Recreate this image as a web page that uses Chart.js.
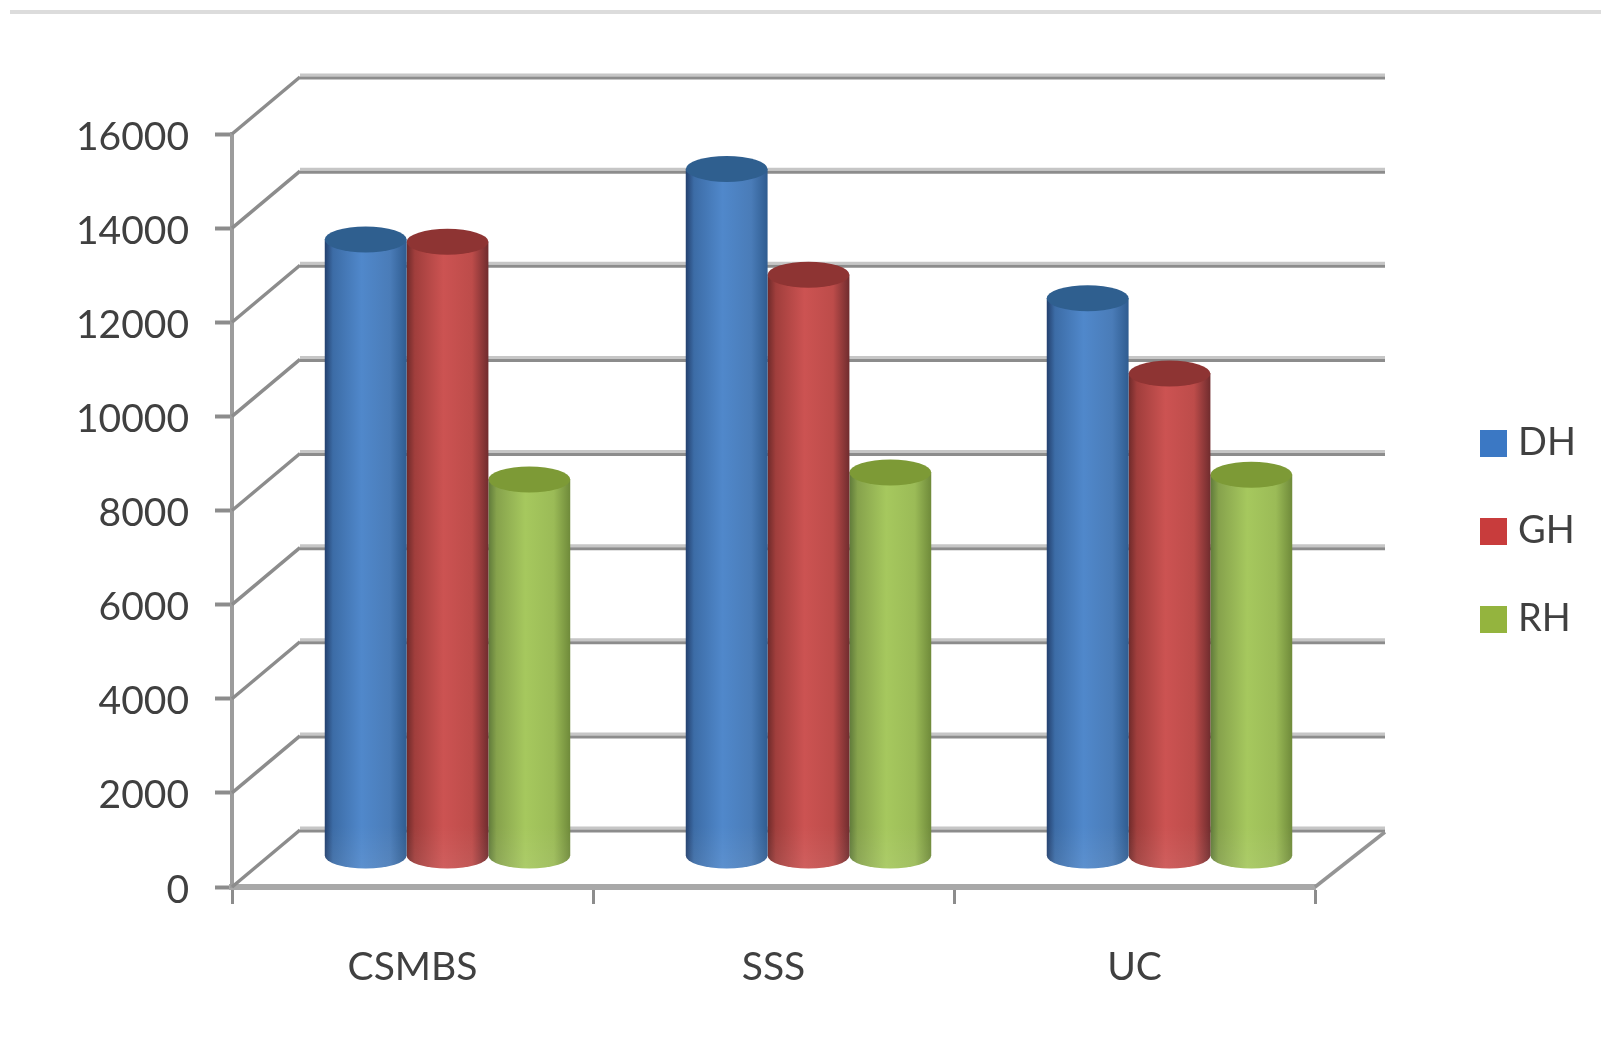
<!DOCTYPE html>
<html>
<head>
<meta charset="utf-8">
<title>CSMBS SSS UC</title>
<script src="https://cdn.jsdelivr.net/npm/chart.js@4"></script>
<style>
    html, body { margin: 0; padding: 0; background: #fff; }
    #topRule { position: absolute; left: 10px; right: 0; top: 10px; height: 4px; background: #dcdcdc; }
    #myChart { display: block; }
</style>
</head>
<body>
<div id="topRule"></div>
<canvas id="myChart" width="1601" height="1050"></canvas>
<script>
    const categories = ['CSMBS', 'SSS', 'UC'];
    const seriesNames = ['DH', 'GH', 'RH'];
    const dh = [13100, 14600, 11850];
    const gh = [13050, 12350, 10250];
    const rh = [8000, 8150, 8100];
    const legendColors = ['#3b78c4', '#c83c3c', '#94b43e'];

    // 원통 색: 가장자리 / 가운데 / 윗면
    const shades = [
        { edge: '#23406e', side: '#3c6ca6', mid: '#5088cb', far: '#4a7cb8', rim: '#2f5c90', top: '#2f5f8f' },
        { edge: '#6e2a2a', side: '#a03e3c', mid: '#cc5352', far: '#bd4c4a', rim: '#702c2e', top: '#8e3433' },
        { edge: '#5f7a3a', side: '#86a24c', mid: '#a6c85e', far: '#9bbb57', rim: '#6f8a3a', top: '#7d9a36' }
    ];

    // 바닥 깊이 (벽까지, 막대는 그 중간쯤)
    const wallDx = 68, wallDy = -57;
    const barDx = 35, barDy = -31;
    const capRy = 13;

    // 막대를 원통으로 그리는 요소
    class CylinderBar extends Chart.BarElement {
        draw(ctx) {
            const c = shades[legendColors.indexOf(this.options.backgroundColor)];
            const r = this.width / 2;
            const cx = this.x + barDx;
            const top = this.y + barDy;
            const bottom = this.base + barDy;

            const g = ctx.createLinearGradient(cx - r, 0, cx + r, 0);
            g.addColorStop(0, c.edge);
            g.addColorStop(0.1, c.side);
            g.addColorStop(0.45, c.mid);
            g.addColorStop(0.8, c.far);
            g.addColorStop(1, c.rim);

            ctx.save();
            ctx.fillStyle = g;
            ctx.beginPath();
            ctx.moveTo(cx - r, top);
            ctx.lineTo(cx - r, bottom);
            ctx.ellipse(cx, bottom, r, capRy, 0, Math.PI, 0, true);
            ctx.lineTo(cx + r, top);
            ctx.closePath();
            ctx.fill();

            // 아래쪽은 살짝 밝게
            const shine = ctx.createLinearGradient(0, bottom - 30, 0, bottom + capRy);
            shine.addColorStop(0, 'rgba(255,255,255,0)');
            shine.addColorStop(1, 'rgba(255,255,255,0.07)');
            ctx.fillStyle = shine;
            ctx.fill();

            ctx.fillStyle = c.top;
            ctx.beginPath();
            ctx.ellipse(cx, top, r, capRy, 0, 0, Math.PI * 2);
            ctx.fill();
            ctx.restore();
        }
    }
    CylinderBar.id = 'cylinderBar';

    class CylinderController extends Chart.BarController {}
    CylinderController.id = 'cylinder';
    CylinderController.defaults = Object.assign({}, Chart.BarController.defaults, { dataElementType: 'cylinderBar' });
    CylinderController.overrides = Chart.BarController.overrides;

    Chart.register(CylinderBar, CylinderController);

    // 뒷벽 눈금선, 옆벽 사선, 바닥 오른쪽 모서리
    const wallPlugin = {
        id: 'wallPlugin',
        beforeDatasetsDraw(chart) {
            const ctx = chart.ctx;
            const yScale = chart.scales.y;
            const left = chart.chartArea.left;
            const right = chart.chartArea.right;

            ctx.save();
            yScale.ticks.forEach(function (tick) {
                const y = yScale.getPixelForValue(tick.value);
                ctx.lineWidth = 3;
                ctx.strokeStyle = '#c6c6c6';
                ctx.beginPath();
                ctx.moveTo(left + wallDx, y + wallDy - 2);
                ctx.lineTo(right + wallDx + 2, y + wallDy - 2);
                ctx.stroke();
                ctx.strokeStyle = '#8c8c8c';
                ctx.beginPath();
                ctx.moveTo(left + wallDx, y + wallDy + 1);
                ctx.lineTo(right + wallDx + 2, y + wallDy + 1);
                ctx.stroke();

                ctx.lineWidth = 3.5;
                ctx.beginPath();
                ctx.moveTo(left, y);
                ctx.lineTo(left + wallDx, y + wallDy);
                ctx.stroke();
            });

            const floorY = yScale.getPixelForValue(0);
            ctx.strokeStyle = '#949494';
            ctx.beginPath();
            ctx.moveTo(right, floorY);
            ctx.lineTo(right + wallDx + 2, floorY + wallDy + 2);
            ctx.stroke();
            ctx.restore();
        }
    };

    // 범례: 기본 범례는 사각형과 글자 간격이 넓어서 직접 그림
    const sideLegend = {
        id: 'sideLegend',
        afterDraw(chart) {
            const ctx = chart.ctx;
            ctx.save();
            ctx.font = '38px Lato';
            ctx.textBaseline = 'middle';
            chart.data.datasets.forEach(function (ds, i) {
                const y = 443 + i * 88;
                ctx.fillStyle = ds.backgroundColor;
                ctx.fillRect(1480, y - 13, 27, 27);
                ctx.fillStyle = '#404040';
                ctx.fillText(ds.label, 1518, y);
            });
            ctx.restore();
        }
    };

    const labelFont = { family: 'Lato', size: 39 };

    let config = {
        type: 'cylinder',
        data: {
            labels: categories,
            datasets: [
                { label: seriesNames[0], data: dh, backgroundColor: legendColors[0], clip: false },
                { label: seriesNames[1], data: gh, backgroundColor: legendColors[1], clip: false },
                { label: seriesNames[2], data: rh, backgroundColor: legendColors[2], clip: false }
            ]
        },
        options: {
            responsive: false,
            animation: false,
            categoryPercentage: 0.68,
            barPercentage: 1,
            layout: { padding: { top: 134, right: 286, bottom: 43, left: 0 } },
            plugins: {
                legend: { display: false },
                tooltip: { enabled: false }
            },
            scales: {
                x: {
                    afterFit(scale) { scale.height = 120; },
                    grid: { drawOnChartArea: false, drawTicks: true, tickLength: 17, tickWidth: 3, tickColor: '#8c8c8c' },
                    border: { color: '#a8a8a8', width: 6 },
                    ticks: { color: '#404040', font: labelFont, padding: 40, maxRotation: 0 }
                },
                y: {
                    min: 0,
                    max: 16000,
                    afterFit(scale) { scale.width = 232; },
                    grid: { drawOnChartArea: false, drawTicks: true, tickLength: 17, tickWidth: 4, tickColor: '#8c8c8c' },
                    border: { color: '#9c9c9c', width: 4 },
                    ticks: {
                        stepSize: 2000,
                        color: '#404040',
                        font: labelFont,
                        padding: 26,
                        labelOffset: 3,
                        callback: function (value) { return String(value); }
                    }
                }
            }
        },
        plugins: [wallPlugin, sideLegend]
    };

    let myChart = new Chart(document.getElementById('myChart'), config);
</script>
</body>
</html>
